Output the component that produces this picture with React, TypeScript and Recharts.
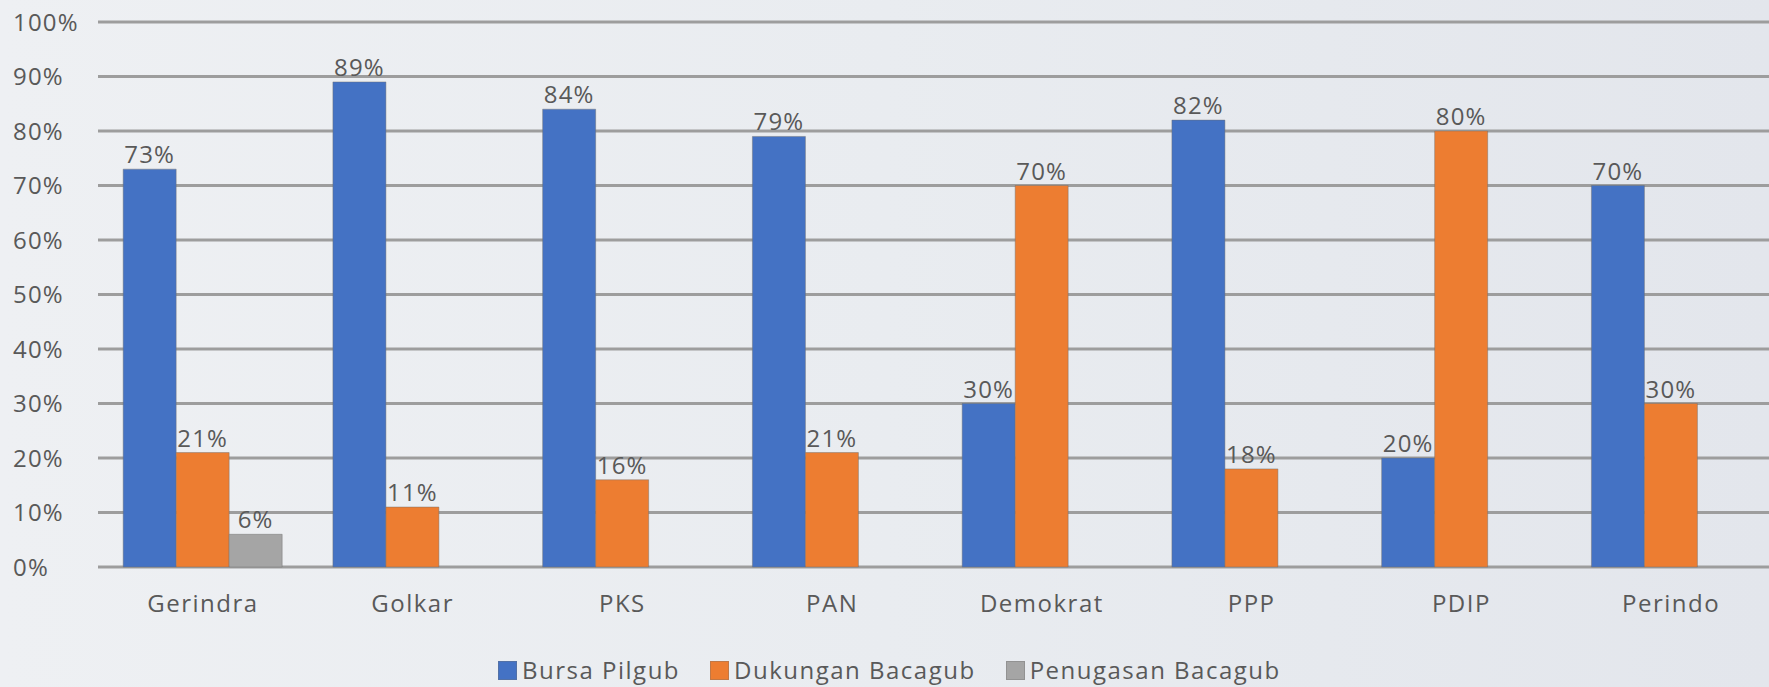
import React from 'react';
import { BarChart, Bar, XAxis, YAxis, CartesianGrid, LabelList } from 'recharts';

const parties = ['Gerindra', 'Golkar', 'PKS', 'PAN', 'Demokrat', 'PPP', 'PDIP', 'Perindo'];
const bursaPilgub = [73, 89, 84, 79, 30, 82, 20, 70];
const dukunganBacagub = [21, 11, 16, 21, 70, 18, 80, 30];
const penugasanBacagub: (number | null)[] = [6, null, null, null, null, null, null, null];
const yTicks = [0, 10, 20, 30, 40, 50, 60, 70, 80, 90, 100];

const series = [
  { key: 'bursa', name: 'Bursa Pilgub', color: '#4472C4' },
  { key: 'dukungan', name: 'Dukungan Bacagub', color: '#ED7D31' },
  { key: 'penugasan', name: 'Penugasan Bacagub', color: '#A5A5A5' },
];

const data = parties.map((party, i) => ({
  party,
  bursa: bursaPilgub[i],
  dukungan: dukunganBacagub[i],
  penugasan: penugasanBacagub[i],
}));

const FONT = '"Open Sans", sans-serif';
const TEXT = '#595959';

const pct = (v: any) => (v == null ? '' : `${v}%`);

const YTick = ({ y, payload }: any) => (
  <text x={13} y={y} dy="0.36em" textAnchor="start" fill={TEXT} fontSize={24} fontFamily={FONT} letterSpacing={1.2}>
    {payload.value}%
  </text>
);

const XTick = ({ x, y, payload }: any) => (
  <text x={x} y={y + 37} textAnchor="middle" fill={TEXT} fontSize={24} fontFamily={FONT} letterSpacing={1.5}>
    {payload.value}
  </text>
);

const App: React.FC = () => {
  return (
    <div
      style={{
        position: 'absolute',
        left: 0,
        top: 0,
        width: 1769,
        height: 687,
        overflow: 'hidden',
        background: 'linear-gradient(90deg, #eef0f3 0%, #e9ecf0 50%, #e3e6ec 100%)',
        fontFamily: FONT,
      }}
    >
      <BarChart
        width={1776}
        height={687}
        data={data}
        margin={{ top: 22, right: 0, left: 0, bottom: 0 }}
        barCategoryGap="12%"
        barGap={0}
      >
        <CartesianGrid vertical={false} stroke="#9d9d9d" strokeWidth={3} />
        <XAxis dataKey="party" axisLine={false} tickLine={false} height={120} tick={<XTick />} interval={0} />
        <YAxis
          domain={[0, 100]}
          ticks={yTicks}
          axisLine={false}
          tickLine={false}
          width={98}
          tick={<YTick />}
          interval={0}
        />
        {series.map((s) => (
          <Bar
            key={s.key}
            dataKey={s.key}
            name={s.name}
            fill={s.color}
            stroke="#6f6f6f"
            strokeOpacity={0.45}
            strokeWidth={1}
            isAnimationActive={false}
          >
            <LabelList
              dataKey={s.key}
              position="top"
              offset={6}
              formatter={pct}
              fill={TEXT}
              fontSize={24}
              fontFamily={FONT}
              letterSpacing={1.2}
            />
          </Bar>
        ))}
      </BarChart>
      <div
        style={{
          position: 'absolute',
          left: 498,
          top: 658,
          display: 'flex',
          alignItems: 'center',
          whiteSpace: 'nowrap',
          fontSize: 24,
          lineHeight: '24px',
          letterSpacing: 1.5,
          color: TEXT,
        }}
      >
        {series.map((s) => (
          <div key={s.key} style={{ display: 'flex', alignItems: 'center', marginRight: 30 }}>
            <span
              style={{
                display: 'inline-block',
                width: 19,
                height: 19,
                background: s.color,
                border: '1px solid rgba(111,111,111,0.35)',
                boxSizing: 'border-box',
                marginRight: 5,
              }}
            />
            <span>{s.name}</span>
          </div>
        ))}
      </div>
    </div>
  );
};

export default App;
